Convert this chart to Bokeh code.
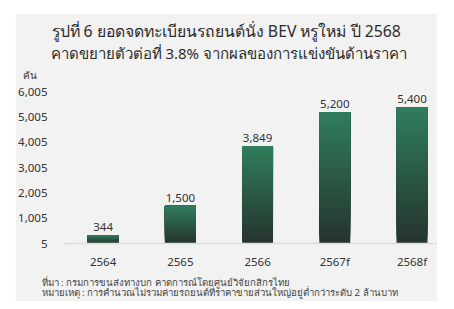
from bokeh.plotting import figure
from bokeh.models import (ColumnDataSource, FixedTicker, NumeralTickFormatter, Range1d, LabelSet, Title)
from bokeh.core.properties import value
from bokeh.embed import file_html
from bokeh.resources import INLINE

categories = ["2564", "2565", "2566", "2567f", "2568f"]
values = [344, 1500, 3849, 5200, 5400]
value_labels = ["344", "1,500", "3,849", "5,200", "5,400"]
y_ticks = [5, 1005, 2005, 3005, 4005, 5005, 6005]
title1 = "รูปที่ 6 ยอดจดทะเบียนรถยนต์นั่ง BEV หรูใหม่ ปี 2568"
title2 = "คาดขยายตัวต่อที่ 3.8% จากผลของการแข่งขันด้านราคา"
unit = "คัน"
note1 = "ที่มา : กรมการขนส่งทางบก คาดการณ์โดยศูนย์วิจัยกสิกรไทย"
note2 = "หมายเหตุ : การคำนวณไม่รวมค่ายรถยนต์ที่ราคาขายส่วนใหญ่อยู่ต่ำกว่าระดับ 2 ล้านบาท"

BASE = 5
FONT = "Noto Sans"
PANEL = "#f2f2f2"

p = figure(width=422, height=288, output_backend="svg", toolbar_location=None,
           x_range=Range1d(-0.5, 4.33), y_range=Range1d(BASE, 6250),
           min_border_left=44, min_border_right=0, min_border_top=72, min_border_bottom=58)
p.margin = (13, 17, 8, 15)
p.background_fill_color = PANEL
p.border_fill_color = PANEL
p.outline_line_color = None
p.grid.visible = False

# gradient bars via overlapping slices (each slice drawn from its bottom up to the bar top)
N = 30
top_c = (47, 125, 92)
bot_c = (38, 52, 45)
xs, bots, tops, cols = [], [], [], []
for i, v in enumerate(values):
    h = (v - BASE) / N
    for k in range(N):
        f = k / (N - 1)
        c = tuple(int(round(bot_c[j] + (top_c[j] - bot_c[j]) * f)) for j in range(3))
        xs.append(i)
        bots.append(BASE + k * h)
        tops.append(v)
        cols.append("#%02x%02x%02x" % c)
p.vbar(x=xs, bottom=bots, top=tops, width=0.4, fill_color=cols, line_color=None)

src = ColumnDataSource(dict(x=list(range(len(values))), y=values, t=value_labels))
p.add_layout(LabelSet(x="x", y="y", text="t", source=src, y_offset=4, text_align="center",
                      text_baseline="bottom", text_font_size="11.5px", text_color="#333333",
                      text_font=value(FONT)))

p.xaxis.ticker = FixedTicker(ticks=list(range(len(categories))))
p.xaxis.major_label_overrides = {i: c for i, c in enumerate(categories)}
p.xaxis.major_tick_line_color = None
p.xaxis.minor_tick_line_color = None
p.xaxis.axis_line_color = "#dcdcdc"
p.xaxis.axis_line_width = 1.5
p.xaxis.major_label_standoff = 4
p.xaxis.major_label_text_font_size = "11.5px"
p.xaxis.major_label_text_color = "#333333"
p.xaxis.major_label_text_font = FONT

p.yaxis.ticker = FixedTicker(ticks=y_ticks)
p.yaxis.formatter = NumeralTickFormatter(format="0,0")
p.yaxis.axis_line_color = None
p.yaxis.major_tick_line_color = None
p.yaxis.minor_tick_line_color = None
p.yaxis.major_label_standoff = 11
p.yaxis.major_label_text_font_size = "11.5px"
p.yaxis.major_label_text_color = "#333333"
p.yaxis.major_label_text_font = FONT

def title(text, loc, size, align, offset, standoff, color="#2b2b2b", lh=1.0):
    p.add_layout(Title(text=text, align=align, offset=offset, standoff=standoff,
                       text_font_size=size, text_color=color, text_font=FONT,
                       text_font_style="normal", text_line_height=lh), loc)

title(unit, "above", "10px", "left", -42, 7, "#333333")
title(title2, "above", "15px", "left", -14, 0)
title(title1, "above", "15.8px", "left", -13, -3)
title(note1 + "\n" + note2, "below", "9.6px", "left", -23, 5, "#444444", 0.8)

open("out.html", "w").write(file_html(p, INLINE))
